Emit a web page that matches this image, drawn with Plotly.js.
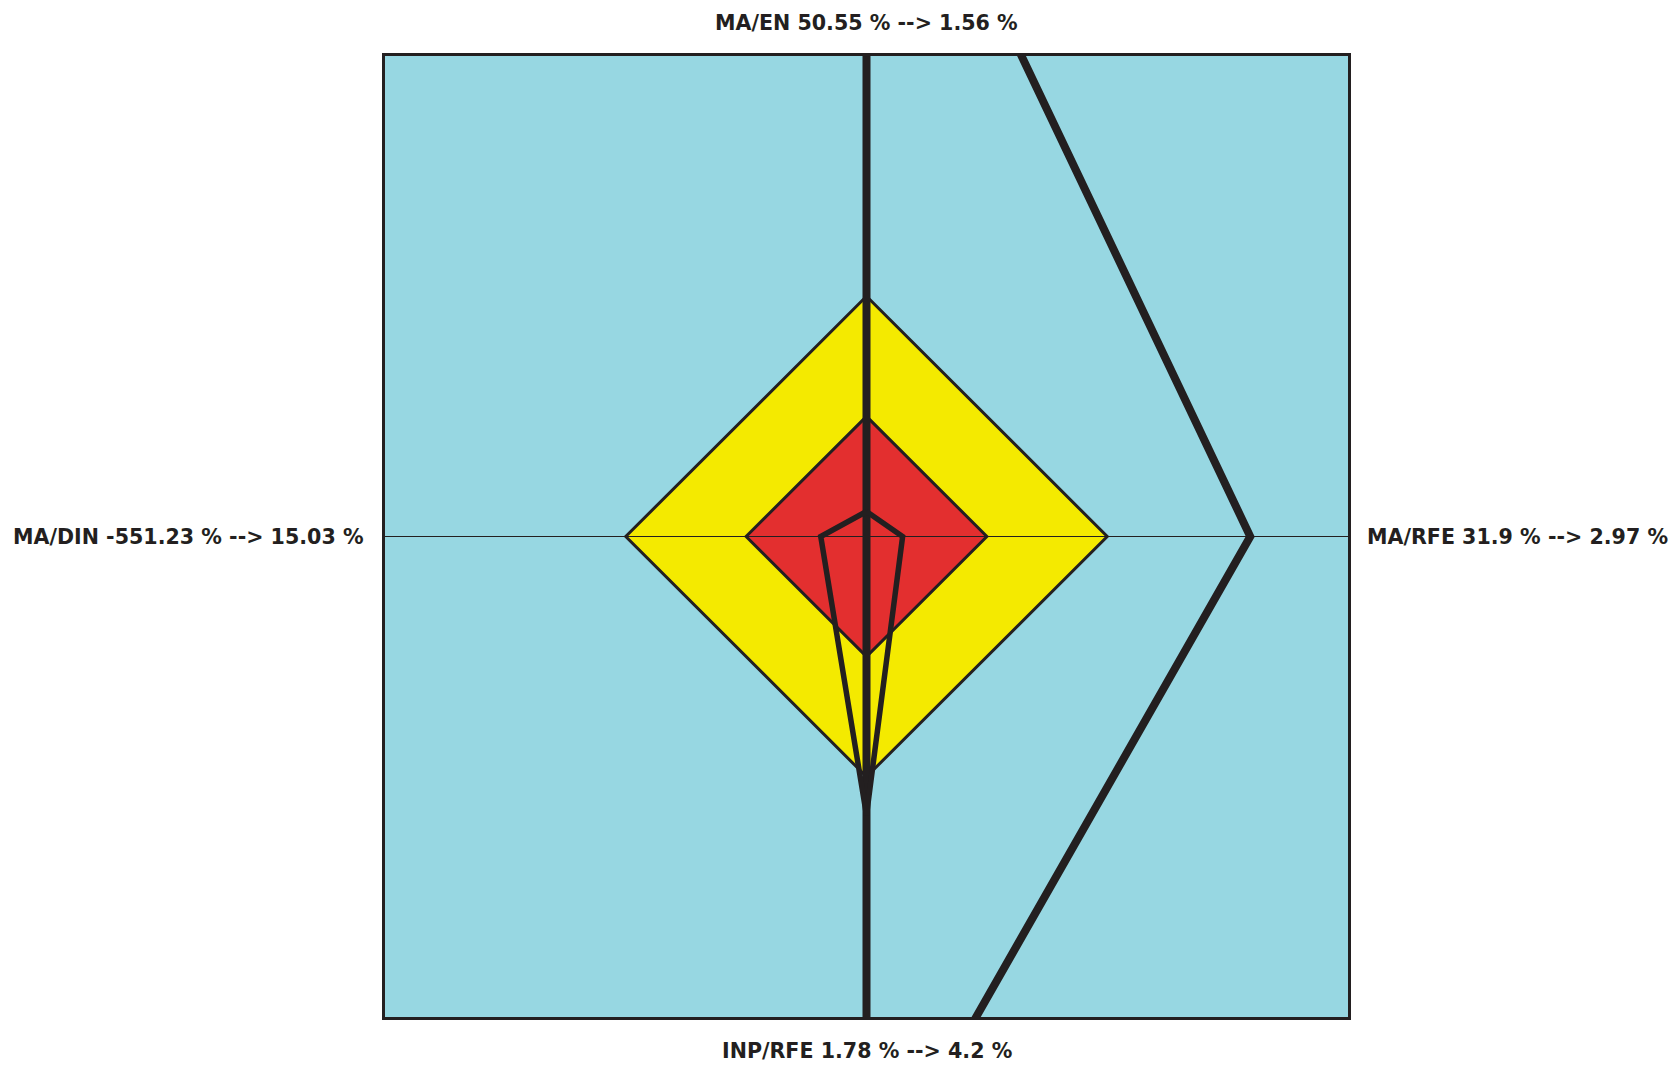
<!DOCTYPE html>
<html>
<head>
<meta charset="utf-8">
<script src="https://cdn.plot.ly/plotly-3.0.1.min.js"></script>
<style>
  html, body { margin: 0; padding: 0; background: #ffffff; }
  #chart { width: 1672px; height: 1065px; }
</style>
</head>
<body>
<div id="chart"></div>
<script>
// Axes of the diamond chart, in drawing order: top, right, bottom, left
const axisNames = ['MA/EN', 'MA/RFE', 'INP/RFE', 'MA/DIN'];
const beforeValues = [50.55, 31.9, 1.78, -551.23];
const afterValues = [1.56, 2.97, 4.2, 15.03];
// Normalised radius of each polygon along each axis (1 = edge of the square)
const beforeRadius = [1.678, 0.797, 1.40, 0];
const afterRadius = [0.052, 0.075, 0.58, 0.095];
// Threshold zones
const yellowRadius = [0.5, 0.5, 0.5, 0.5];
const redRadius = [0.25, 0.25, 0.25, 0.25];

const dirs = [[0, 1], [1, 0], [0, -1], [-1, 0]];
function poly(r) {
  const xs = [], ys = [];
  for (let i = 0; i <= r.length; i++) {
    const k = i % r.length;
    xs.push(dirs[k][0] * r[k]);
    ys.push(dirs[k][1] * r[k]);
  }
  return { x: xs, y: ys };
}

const dark = '#231f20';
const yP = poly(yellowRadius), rP = poly(redRadius), bP = poly(beforeRadius), aP = poly(afterRadius);

const traces = [
  { x: yP.x, y: yP.y, mode: 'lines', fill: 'toself', fillcolor: '#f4ea00', line: { color: dark, width: 3 }, hoverinfo: 'skip' },
  { x: rP.x, y: rP.y, mode: 'lines', fill: 'toself', fillcolor: '#e32f2f', line: { color: dark, width: 3 }, hoverinfo: 'skip' },
  { x: bP.x, y: bP.y, mode: 'lines', line: { color: dark, width: 8 }, hoverinfo: 'skip' },
  { x: aP.x, y: aP.y, mode: 'lines', line: { color: dark, width: 5.5 }, hoverinfo: 'skip' }
];

function label(i) {
  return axisNames[i] + ' ' + beforeValues[i] + ' % --> ' + afterValues[i] + ' %';
}
const font = { family: 'DejaVu Sans', size: 20.6, color: dark, weight: 'bold' };

const axisCommon = {
  range: [-1, 1], showgrid: false, zeroline: false, showticklabels: false, ticks: '',
  showline: true, mirror: true, linewidth: 3, linecolor: dark, fixedrange: true
};

const layout = {
  width: 1672, height: 1065, autosize: false,
  margin: { l: 385, r: 323.5, t: 55.5, b: 48, pad: 0 },
  paper_bgcolor: '#ffffff', plot_bgcolor: '#97d7e2',
  showlegend: false,
  xaxis: Object.assign({}, axisCommon),
  yaxis: Object.assign({}, axisCommon),
  shapes: [
    { type: 'line', xref: 'x', yref: 'y', x0: -1, x1: 1, y0: 0, y1: 0, line: { color: dark, width: 1 }, layer: 'above' }
  ],
  annotations: [
    { text: label(0), xref: 'paper', yref: 'paper', x: 0.5, y: 1, xanchor: 'center', yanchor: 'middle', yshift: 33, showarrow: false, font: font },
    { text: label(1), xref: 'paper', yref: 'paper', x: 1, y: 0.5, xanchor: 'left', yanchor: 'middle', xshift: 17, showarrow: false, font: font },
    { text: label(2), xref: 'paper', yref: 'paper', x: 0.5, y: 0, xanchor: 'center', yanchor: 'middle', yshift: -34, showarrow: false, font: font },
    { text: label(3), xref: 'paper', yref: 'paper', x: 0, y: 0.5, xanchor: 'right', yanchor: 'middle', xshift: -19, showarrow: false, font: font }
  ]
};

Plotly.newPlot('chart', traces, layout, { displayModeBar: false, staticPlot: true });
</script>
</body>
</html>
